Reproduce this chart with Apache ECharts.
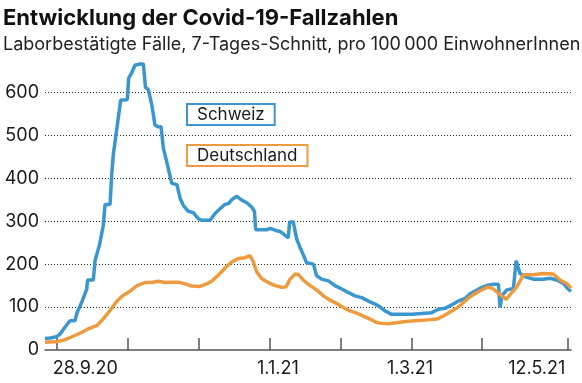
<!DOCTYPE html>
<html><head><meta charset="utf-8">
<script src="https://cdn.jsdelivr.net/npm/echarts@6/dist/echarts.min.js"></script>
<style>html,body{margin:0;padding:0;background:#fff}#c{width:582px;height:383px}</style>
</head><body><div id="c"></div>
<script>
// x values: days since 23.9.2020
const titleText = 'Entwicklung der Covid-19-Fallzahlen';
const subtitleText = 'Laborbestätigte Fälle, 7-Tages-Schnitt, pro 100\u202F000 EinwohnerInnen';
const seriesNames = ['Schweiz', 'Deutschland'];

const chDay = [0, 2.2, 5.2, 6.6, 8.8, 11.0, 13.2, 14.2, 16.2, 18.4, 18.8, 21.3, 22.1, 24.0, 25.7, 26.5, 28.7, 29.4, 30.1, 31.9, 33.4, 36.3, 36.9, 38.2, 39.7, 41.9, 43.4, 44.3, 45.6, 47.1, 48.5, 49.7, 51.2, 52.2, 53.7, 55.9, 56.5, 58.2, 59.6, 61.0, 63.2, 65.4, 67.6, 69.1, 72.8, 75.0, 77.2, 79.4, 80.9, 82.6, 84.6, 86.8, 89.0, 91.2, 92.4, 92.9, 97.8, 99.3, 101.5, 103.7, 105.9, 107.3, 107.9, 109.5, 111.0, 112.4, 113.9, 115.4, 116.1, 118.4, 119.8, 122.0, 125.0, 127.9, 130.9, 133.8, 136.7, 139.7, 142.6, 145.6, 147.8, 150.0, 152.9, 157.3, 161.8, 166.2, 170.6, 173.5, 176.4, 179.4, 182.3, 185.3, 187.5, 191.9, 194.8, 197.8, 200.0, 200.7, 201.5, 203.7, 206.6, 207.8, 209.5, 212.5, 215.4, 219.8, 222.8, 225.7, 228.6, 230.8, 232.0];
const chVal = [27, 28, 31, 37, 53, 68, 68, 88, 111, 142, 163, 163, 209, 244, 290, 339, 339, 407, 454, 524, 582, 583, 633, 645, 663, 666, 666, 612, 606, 571, 524, 520, 520, 470, 438, 388, 385, 385, 353, 337, 323, 320, 306, 302, 302, 318, 329, 339, 341, 351, 358, 349, 343, 333, 322, 280, 280, 283, 279, 276, 267, 261, 298, 298, 259, 240, 222, 203, 200, 200, 173, 165, 161, 150, 142, 134, 126, 122, 114, 107, 100, 91, 83, 83, 83, 85, 87, 95, 97, 105, 114, 120, 131, 144, 150, 153, 153, 99, 126, 140, 143, 208, 178, 169, 165, 165, 167, 163, 155, 142, 136];

const deDay = [0, 4.9, 8.8, 12.4, 15.4, 19.0, 22.9, 25.6, 28.7, 31.8, 34.4, 37.5, 40.6, 44.1, 47.1, 50.0, 52.9, 55.9, 58.8, 61.8, 64.7, 68.4, 71.3, 73.5, 76.4, 79.4, 82.4, 85.3, 88.2, 90.4, 91.9, 93.4, 95.6, 98.5, 101.5, 104.4, 106.3, 108.1, 110.3, 111.7, 113.9, 116.9, 119.8, 122.8, 125.7, 128.7, 131.6, 134.5, 137.5, 140.4, 143.4, 146.3, 148.5, 151.4, 155.8, 160.2, 166.2, 172.8, 175.7, 179.4, 182.3, 185.3, 187.5, 191.9, 195.5, 197.8, 200.7, 203.4, 205.1, 208.1, 211.0, 215.4, 219.8, 224.2, 227.2, 230.1, 232.0];
const deVal = [18, 19, 24, 32, 39, 49, 57, 72, 92, 114, 127, 137, 150, 157, 157, 160, 157, 158, 158, 154, 149, 148, 154, 160, 174, 191, 205, 213, 215, 220, 205, 182, 166, 157, 150, 146, 147, 165, 177, 176, 163, 150, 140, 126, 116, 108, 99, 91, 86, 79, 72, 64, 62, 61, 64, 67, 69, 72, 79, 91, 100, 114, 124, 138, 147, 142, 129, 118, 129, 147, 175, 175, 178, 177, 163, 155, 144];

const tickDays = [5.4, 36.6, 67.9, 99.1, 130.6, 161.9, 192.8, 230.7];
const labelDays = [17.8, 102.7, 161.0, 216.9];
const labelTexts = ['28.9.20', '1.1.21', '1.3.21', '12.5.21'];

const BLUE = '#3a96cf', ORANGE = '#ee9a3e', TXT = '#1a1a1a';
const FONT = 'Inter';

const chart = echarts.init(document.getElementById('c'), null, {renderer: 'canvas'});
chart.setOption({
  animation: false,
  backgroundColor: '#fff',
  title: {
    text: titleText, subtext: subtitleText, left: 3, top: 7, padding: 0, itemGap: 7,
    textStyle: {fontSize: 22, fontWeight: 'bold', color: '#111', fontFamily: FONT},
    subtextStyle: {fontSize: 18, color: '#222', fontFamily: FONT}
  },
  legend: {
    orient: 'vertical', left: 183, top: 103, padding: 0, itemGap: 18, itemWidth: 0, itemHeight: 0,
    icon: 'rect', selectedMode: false,
    textStyle: {fontSize: 17, color: TXT, fontFamily: FONT},
    data: [
      {name: seriesNames[0], textStyle: {borderColor: BLUE, borderWidth: 2, padding: [1, 9, 1, 9], backgroundColor: '#fff'}},
      {name: seriesNames[1], textStyle: {borderColor: ORANGE, borderWidth: 2, padding: [1, 9, 1, 9], backgroundColor: '#fff'}}
    ]
  },
  grid: {left: 45, right: 11, top: 49.4, bottom: 33},
  xAxis: {
    type: 'value', min: 0, max: 232,
    axisLine: {show: true, onZero: false, lineStyle: {color: '#555', width: 1.5}},
    axisTick: {show: true, customValues: tickDays, inside: true, length: 12, lineStyle: {color: '#555', width: 1.5}},
    axisLabel: {
      customValues: labelDays, margin: 10, fontSize: 18, color: TXT, fontFamily: FONT,
      formatter: function (v) {
        let best = 0;
        labelDays.forEach((d, i) => { if (Math.abs(d - v) < Math.abs(labelDays[best] - v)) best = i; });
        return labelTexts[best];
      }
    },
    splitLine: {show: false}
  },
  yAxis: {
    type: 'value', min: 0, max: 700, interval: 100,
    axisLine: {show: false}, axisTick: {show: false},
    axisLabel: {margin: 6, fontSize: 18, color: TXT, fontFamily: FONT, showMaxLabel: false},
    splitLine: {show: true, showMinLine: false, showMaxLine: false, lineStyle: {type: [1, 2], color: '#222', width: 1.2}}
  },
  series: [
    {name: seriesNames[0], type: 'line', showSymbol: false, data: chDay.map((d, i) => [d, chVal[i]]),
     lineStyle: {color: BLUE, width: 3.5}, itemStyle: {color: BLUE}},
    {name: seriesNames[1], type: 'line', showSymbol: false, data: deDay.map((d, i) => [d, deVal[i]]),
     lineStyle: {color: ORANGE, width: 3.5}, itemStyle: {color: ORANGE}}
  ]
});
</script></body></html>
